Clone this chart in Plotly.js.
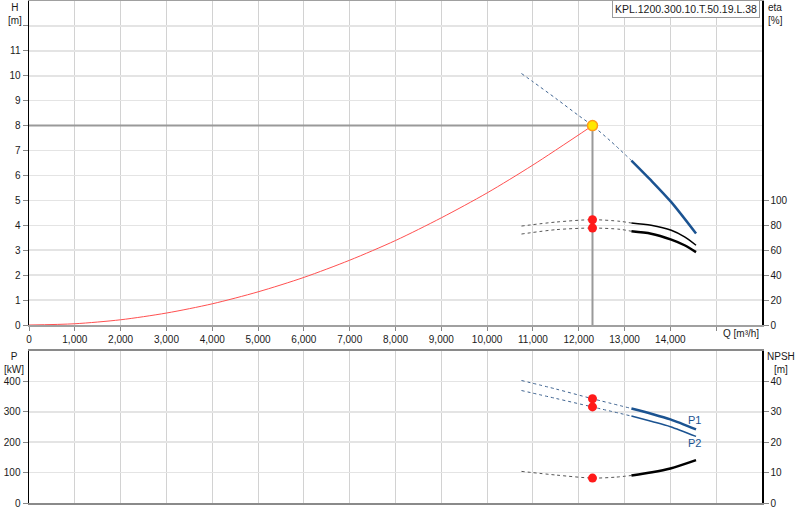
<!DOCTYPE html>
<html>
<head>
<meta charset="utf-8">
<script src="https://cdn.plot.ly/plotly-3.0.1.min.js"></script>
<style>html,body{margin:0;padding:0;background:#fff;}#chart{width:800px;height:520px;}</style>
</head>
<body>
<div id="chart"></div>
<script>
// ---------- data ----------
const qTicks = [0,1000,2000,3000,4000,5000,6000,7000,8000,9000,10000,11000,12000,13000,14000,15000];
const qTickText = ['0','1,000','2,000','3,000','4,000','5,000','6,000','7,000','8,000','9,000','10,000','11,000','12,000','13,000','14,000',''];
const hTicks = [0,1,2,3,4,5,6,7,8,9,10,11,12];
const hTickText = ['0','1','2','3','4','5','6','7','8','9','10','11',''];
const etaTicks = [0,20,40,60,80,100];
const pTicks = [0,100,200,300,400];
const npshTicks = [0,10,20,30,40];

const modelName = 'KPL.1200.300.10.T.50.19.L.38';
const dutyQ = 12300;
const dutyH = 8.0;

// system curve
const sysQ = [0,1000,2000,3000,4000,5000,6000,7000,8000,9000,10000,11000,12300];
const sysH = [0,0.05,0.21,0.48,0.85,1.33,1.91,2.6,3.39,4.3,5.3,6.42,8.0];

// pump head curve
const hDashQ = [10750,11000,11500,12000,12300,12700,13150];
const hDashH = [10.09,9.76,9.09,8.40,8.0,7.37,6.6];
const hSolidQ = [13150,13580,14020,14560];
const hSolidH = [6.6,5.8,4.93,3.67];

// efficiency curves
const eta1DashQ = [10750,11500,12300,12900,13150];
const eta1DashV = [79.4,82.6,84.5,83.2,81.8];
const eta1SolidQ = [13150,13580,14020,14310,14560];
const eta1SolidV = [81.8,80,76,70.7,64];
const eta2DashQ = [10750,11500,12300,12900,13150];
const eta2DashV = [73,76.5,77.8,76.8,75.2];
const eta2SolidQ = [13150,13580,14020,14310,14560];
const eta2SolidV = [75.2,73.3,68.5,64,58.5];
const etaDutyV = [84.5,77.8];

// power curves
const p1DashQ = [10750,11500,12300,13150];
const p1DashV = [403,375,343,311];
const p1SolidQ = [13150,13600,14000,14560];
const p1SolidV = [311,293,275,242];
const p2DashQ = [10750,11500,12300,13150];
const p2DashV = [370,344,316,286];
const p2SolidQ = [13150,13600,14000,14560];
const p2SolidV = [286,268,251,219];
const pDutyV = [343,316];

// NPSH curve
const npshDashQ = [10750,11500,12300,12800,13150];
const npshDashV = [10.4,9.2,8.2,8.5,9.05];
const npshSolidQ = [13150,13600,14000,14560];
const npshSolidV = [9.05,10.1,11.35,14.1];
const npshDutyV = 8.2;

// ---------- styling ----------
const BLUE = '#1b5391';
const FONT = 'Liberation Sans, Arial, sans-serif';
const TXT = '#1a1a1a';
const L = 29, R = 762, TOP = 1, BOT = 503;
const px = x => (x - L) / (R - L);
const py = y => (BOT - y) / (BOT - TOP);

function line(x, y, color, width, dash, xa, ya) {
  return {x: x, y: y, type: 'scatter', mode: 'lines', xaxis: xa, yaxis: ya,
          line: {color: color, width: width, dash: dash || 'solid', shape: 'spline', smoothing: 0.8},
          hoverinfo: 'skip', showlegend: false};
}
function dots(x, y, xa, ya) {
  return {x: x, y: y, type: 'scatter', mode: 'markers', xaxis: xa, yaxis: ya,
          marker: {color: '#ff1a1a', size: 9, line: {width: 0}}, showlegend: false};
}

const guide = line([0, dutyQ, dutyQ], [dutyH, dutyH, 0], '#9a9a9a', 2, 'solid', 'x', 'y');
guide.line.shape = 'linear';

const traces = [
  line(sysQ, sysH, '#ff5050', 1, 'solid', 'x', 'y'),
  guide,
  line(hDashQ, hDashH, '#3f6491', 1, 'dot', 'x', 'y'),
  line(hSolidQ, hSolidH, BLUE, 2.5, 'solid', 'x', 'y'),
  line(eta1DashQ, eta1DashV, '#555', 1, 'dot', 'x', 'y2'),
  line(eta1SolidQ, eta1SolidV, '#000', 1.5, 'solid', 'x', 'y2'),
  line(eta2DashQ, eta2DashV, '#555', 1, 'dot', 'x', 'y2'),
  line(eta2SolidQ, eta2SolidV, '#000', 2.5, 'solid', 'x', 'y2'),
  dots([dutyQ, dutyQ], etaDutyV, 'x', 'y2'),
  {x: [dutyQ], y: [dutyH], type: 'scatter', mode: 'markers', xaxis: 'x', yaxis: 'y',
   marker: {color: '#ffe800', size: 10, line: {color: '#ff9a1a', width: 1.5}}, showlegend: false},

  line(p1DashQ, p1DashV, '#3f6491', 1, 'dot', 'x2', 'y3'),
  line(p1SolidQ, p1SolidV, BLUE, 2.5, 'solid', 'x2', 'y3'),
  line(p2DashQ, p2DashV, '#3f6491', 1, 'dot', 'x2', 'y3'),
  line(p2SolidQ, p2SolidV, BLUE, 1.5, 'solid', 'x2', 'y3'),
  dots([dutyQ, dutyQ], pDutyV, 'x2', 'y3'),
  line(npshDashQ, npshDashV, '#555', 1, 'dot', 'x2', 'y4'),
  line(npshSolidQ, npshSolidV, '#000', 2.5, 'solid', 'x2', 'y4'),
  dots([dutyQ], [npshDutyV], 'x2', 'y4')
];

const tickFont = {family: FONT, size: 10, color: TXT};
const topDom = [py(325), 1];
const botDom = [0, py(351)];

const layout = {
  width: 800, height: 520,
  margin: {l: L, r: 800 - R, t: TOP, b: 520 - BOT},
  paper_bgcolor: '#fff', plot_bgcolor: '#fff',
  font: {family: FONT, size: 10, color: TXT},
  showlegend: false,
  xaxis: {domain: [0, 1], anchor: 'y', range: [0, 16000], tickmode: 'array', tickvals: qTicks, ticktext: qTickText,
          ticks: 'outside', ticklen: 4, tickcolor: '#888', tickfont: tickFont,
          showgrid: true, gridcolor: '#d2d2d2', gridwidth: 1, zeroline: false,
          showline: true, linecolor: '#a0a0a0', linewidth: 2, mirror: true},
  yaxis: {domain: topDom, anchor: 'x', range: [0, 13], tickmode: 'array', tickvals: hTicks, ticktext: hTickText,
          ticks: 'outside', ticklen: 5, tickcolor: '#888', tickfont: tickFont,
          showgrid: true, gridcolor: '#e4e4e4', gridwidth: 1.5, zeroline: false,
          showline: true, linecolor: '#000', linewidth: 1.5},
  yaxis2: {overlaying: 'y', side: 'right', anchor: 'x', range: [0, 260], tickmode: 'array', tickvals: etaTicks,
           ticks: 'outside', ticklen: 5, tickcolor: '#888', tickfont: tickFont,
           showgrid: false, zeroline: false, showline: true, linecolor: '#000', linewidth: 1.5},
  xaxis2: {domain: [0, 1], anchor: 'y3', range: [0, 16000], tickmode: 'array', tickvals: qTicks,
           showticklabels: false, ticks: '',
           showgrid: true, gridcolor: '#d2d2d2', gridwidth: 1, zeroline: false,
           showline: true, linecolor: '#8a8a8a', linewidth: 2, mirror: true},
  yaxis3: {domain: botDom, anchor: 'x2', range: [0, 500], tickmode: 'array', tickvals: pTicks,
           ticks: 'outside', ticklen: 5, tickcolor: '#888', tickfont: tickFont,
           showgrid: true, gridcolor: '#e4e4e4', gridwidth: 1.5, zeroline: false,
           showline: true, linecolor: '#000', linewidth: 1.5},
  yaxis4: {overlaying: 'y3', side: 'right', anchor: 'x2', range: [0, 50], tickmode: 'array', tickvals: npshTicks,
           ticks: 'outside', ticklen: 5, tickcolor: '#888', tickfont: tickFont,
           showgrid: false, zeroline: false, showline: true, linecolor: '#000', linewidth: 1.5},
  annotations: [
    {xref: 'paper', yref: 'paper', x: px(15), y: py(0), xanchor: 'center', yanchor: 'top',
     text: 'H<br>[m]', showarrow: false, align: 'center', font: {family: FONT, size: 10, color: TXT}},
    {xref: 'paper', yref: 'paper', x: px(766), y: py(0), xanchor: 'left', yanchor: 'top',
     text: 'eta<br>[%]', showarrow: false, align: 'left', font: {family: FONT, size: 10, color: TXT}},
    {xref: 'paper', yref: 'paper', x: px(14), y: py(349), xanchor: 'center', yanchor: 'top',
     text: 'P<br>[kW]', showarrow: false, align: 'center', font: {family: FONT, size: 10, color: TXT}},
    {xref: 'paper', yref: 'paper', x: px(781), y: py(349), xanchor: 'center', yanchor: 'top',
     text: 'NPSH<br>[m]', showarrow: false, align: 'center', font: {family: FONT, size: 10, color: TXT}},
    {xref: 'paper', yref: 'paper', x: px(721), y: py(333), xanchor: 'left', yanchor: 'middle',
     text: 'Q [m³/h]', showarrow: false, font: {family: FONT, size: 10, color: TXT}},
    {xref: 'paper', yref: 'paper', x: px(760), y: py(0), xanchor: 'right', yanchor: 'top',
     text: modelName, showarrow: false, bgcolor: '#fff', bordercolor: '#9a9a9a', borderwidth: 1, borderpad: 2,
     font: {family: FONT, size: 10.5, color: TXT}},
    {xref: 'x2', yref: 'y3', x: p1SolidQ[p1SolidQ.length - 1], y: p1SolidV[p1SolidV.length - 1], xanchor: 'center', yanchor: 'bottom',
     xshift: -2, yshift: 1, text: 'P1', showarrow: false, font: {family: FONT, size: 11, color: BLUE}},
    {xref: 'x2', yref: 'y3', x: p2SolidQ[p2SolidQ.length - 1], y: p2SolidV[p2SolidV.length - 1], xanchor: 'center', yanchor: 'top',
     xshift: -2, yshift: 1, text: 'P2', showarrow: false, font: {family: FONT, size: 11, color: BLUE}}
  ]
};

Plotly.newPlot('chart', traces, layout, {displayModeBar: false, staticPlot: true});
</script>
</body>
</html>
